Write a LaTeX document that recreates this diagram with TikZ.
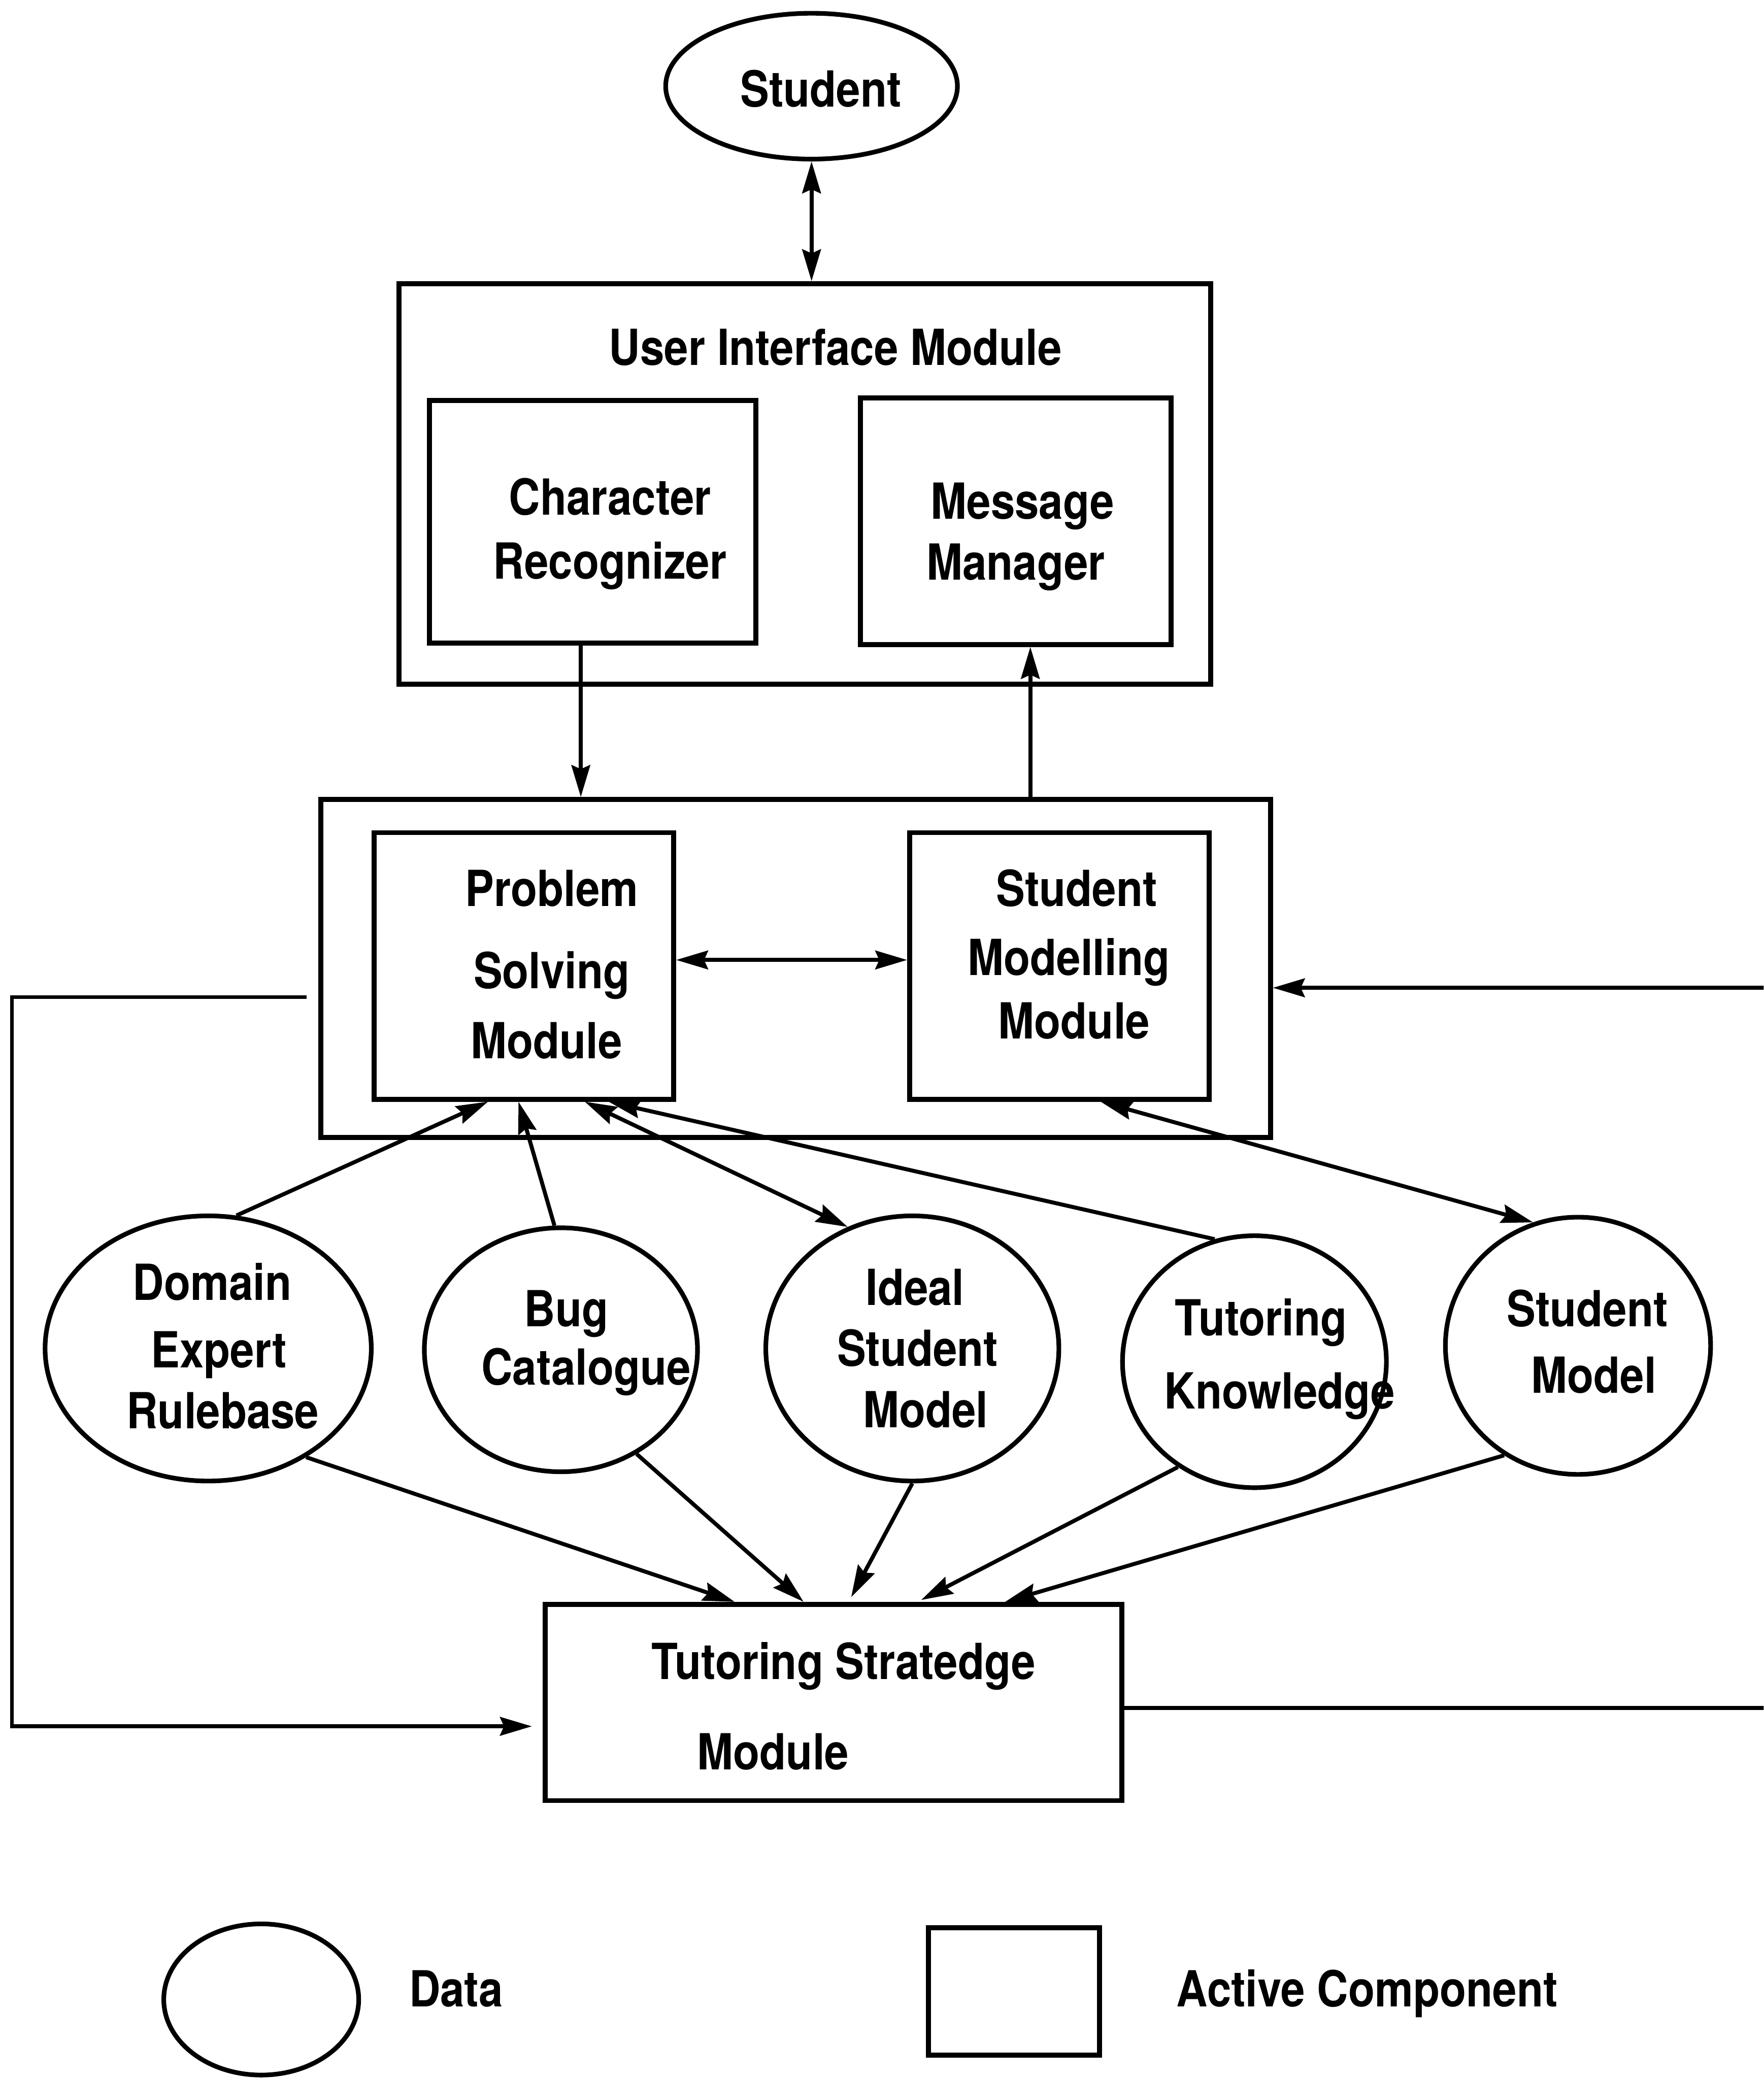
\documentclass[tikz,border=0pt]{standalone}
\usepackage{fontspec}
\setmainfont{TeX Gyre Heros}[FakeStretch=0.87]
\usetikzlibrary{arrows.meta,shapes.geometric}
\begin{document}
\begin{tikzpicture}[x=1pt,y=-1pt,
  box/.style={draw, line width=3.8pt, rectangle, inner sep=0pt},
  datum/.style={draw, line width=3.5pt, ellipse, inner sep=0pt},
  lbl/.style={inner sep=0pt, text height=27pt, text depth=0pt,
    font=\bfseries\fontsize{37.5}{40}\selectfont},
  tip/.tip={Stealth[length=24pt,width=14pt,inset=3pt]},
  conn/.style={line width=3pt, -tip},
  bidir/.style={line width=3pt, tip-tip},
]
\clip (0,0) rectangle (1330,1568);

% --- top: student and user interface ---
\node[datum, minimum width=220pt, minimum height=110pt] (stu) at (612,65) {};
\node[lbl] (stut) at (619,67) {Student};

\node[box, minimum width=612pt, minimum height=302pt] (ui) at (607,365) {};
\node[lbl] (uit) at (630,262) {User Interface Module};

\node[box, minimum width=246pt, minimum height=183pt] (cr) at (447,393.5) {};
\node[lbl] (cr1) at (460,375) {Character};
\node[lbl] (cr2) at (460,423) {Recognizer};

\node[box, minimum width=234pt, minimum height=186pt] (mm) at (766,393) {};
\node[lbl] (mm1) at (771,378) {Message};
\node[lbl] (mm2) at (766,424) {Manager};

% --- middle: problem solving and student modelling ---
\node[box, minimum width=716pt, minimum height=255pt] (mid) at (600,730.5) {};

\node[box, minimum width=226pt, minimum height=201pt] (ps) at (395,728.5) {};
\node[lbl] (ps1) at (416,670) {Problem};
\node[lbl] (ps2) at (416,732) {Solving};
\node[lbl] (ps3) at (412,785) {Module};

\node[box, minimum width=226pt, minimum height=201pt] (sm) at (799,728.5) {};
\node[lbl] (sm1) at (812,670) {Student};
\node[lbl] (sm2) at (806,722) {Modelling};
\node[lbl] (sm3) at (810,770) {Module};

% --- data stores ---
\node[datum, minimum width=246pt, minimum height=200pt] (der) at (157,1017) {};
\node[lbl] (der1) at (160,967) {Domain};
\node[lbl] (der2) at (165,1018) {Expert};
\node[lbl] (der3) at (168,1064) {Rulebase};

\node[datum, minimum width=206pt, minimum height=184pt] (bug) at (423,1018) {};
\node[lbl] (bug1) at (427,987) {Bug};
\node[lbl] (bug2) at (442,1031) {Catalogue};

\node[datum, minimum width=221pt, minimum height=200pt] (ism) at (688,1017) {};
\node[lbl] (ism1) at (690,971) {Ideal};
\node[lbl] (ism2) at (692,1017) {Student};
\node[lbl] (ism3) at (698,1063) {Model};

\node[datum, minimum width=199pt, minimum height=190pt] (tk) at (946,1027) {};
\node[lbl] (tk1) at (951,994) {Tutoring};
\node[lbl] (tk2) at (965,1049) {Knowledge};

\node[datum, minimum width=200pt, minimum height=194pt] (smod) at (1190,1015) {};
\node[lbl] (smod1) at (1197,987) {Student};
\node[lbl] (smod2) at (1202,1037) {Model};

% --- tutoring strategy ---
\node[box, minimum width=435pt, minimum height=148pt] (ts) at (628.5,1284) {};
\node[lbl] (ts1) at (636,1253) {Tutoring Stratedge};
\node[lbl] (ts2) at (583,1321) {Module};

% --- legend ---
\node[datum, minimum width=147pt, minimum height=114pt] (legd) at (197,1508) {};
\node[lbl] (legdt) at (344,1500) {Data};
\node[box, minimum width=129pt, minimum height=96pt] (legb) at (764.5,1502) {};
\node[lbl] (legbt) at (1031,1500) {Active Component};

% --- connectors ---
\draw[bidir] (stu.south) -- (stu.south |- ui.north);
\draw[conn] ([xshift=-9pt]cr.south) -- ([xshift=-9pt]cr.south |- mid.north);
\draw[conn] ([xshift=11pt]mm.south |- mid.north) -- ([xshift=11pt]mm.south);
\draw[bidir] ([yshift=4.5pt]ps.east) -- ([yshift=4.5pt]sm.west);

\draw[conn] (der.78) -- ([xshift=-27pt]ps.south);
\draw[conn] (bug.93) -- ([xshift=-4pt]ps.south);
\draw[bidir] ([xshift=46pt]ps.south) -- (ism.118);
\draw[conn] (tk.108) -- ([xshift=64pt]ps.south);
\draw[bidir] ([xshift=31pt]sm.south) -- (smod.110);

\draw[conn] (der.312) -- ([xshift=-74.5pt]ts.north);
\draw[conn] (bug.306) -- ([xshift=-22.5pt]ts.north);
\draw[conn, shorten >=4pt] (ism.south) -- ([xshift=11.5pt]ts.north);
\draw[conn, shorten >=3pt] (tk.234) -- ([xshift=63.5pt]ts.north);
\draw[conn] (smod.236) -- ([xshift=129.5pt]ts.north);

% feedback from the problem solving side into the strategy module
\coordinate (lefttop) at (9,752);
\coordinate (leftbot) at (9,1302);
\draw[conn, shorten >=8pt] ([xshift=-9pt,yshift=-21.5pt]mid.west) -- (lefttop)
  -- (leftbot) -- (leftbot -| ts.west);

% loop from the strategy module back into the middle layer
\coordinate (rightbot) at (1350,1288);
\coordinate (righttop) at (1350,745);
\draw[conn] ([yshift=-4pt]ts.east) -- (rightbot) -- (righttop)
  -- ([yshift=-14.5pt]mid.east);
\end{tikzpicture}
\end{document}
